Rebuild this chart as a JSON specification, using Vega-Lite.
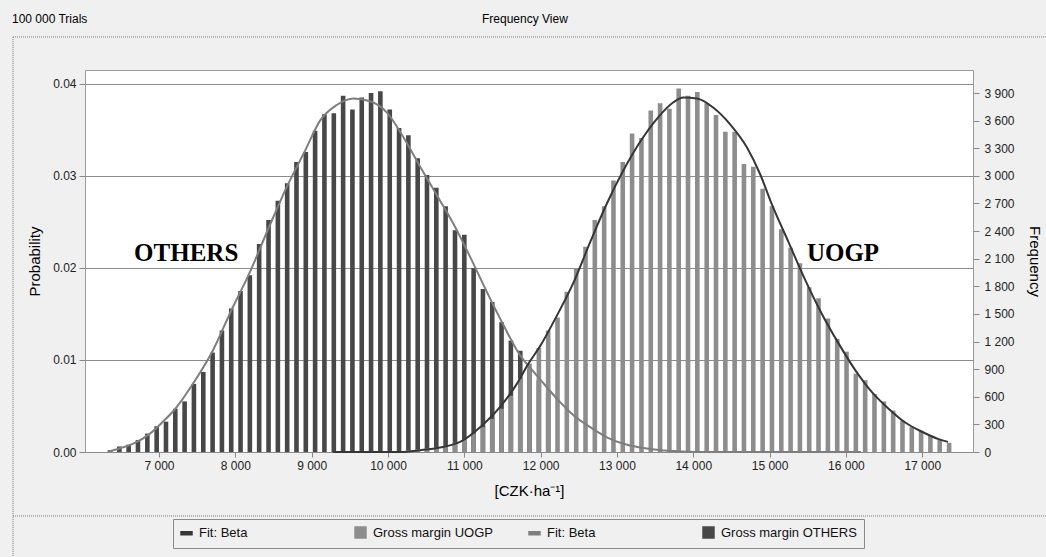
{
  "$schema": "https://vega.github.io/schema/vega-lite/v6.json",
  "width": 888,
  "height": 382,
  "autosize": {"type": "none"},
  "padding": {"left": 85, "top": 70, "right": 73, "bottom": 105},
  "background": "#f0f0f0",
  "config": {
    "view": {"fill": "white", "stroke": "#9a9a9a", "strokeWidth": 1},
    "scale": {"continuousPadding": 0},
    "font": "Liberation Sans",
    "axis": {"labelFont": "Liberation Sans", "titleFont": "Liberation Sans", "labelColor": "#222", "titleColor": "#000", "labelFontSize": 12, "titleFontWeight": "normal", "titleFontSize": 15, "tickColor": "#888", "domain": false}
  },
  "datasets": {
    "bars": [
      {"series": "Gross margin OTHERS", "czk": 6358, "prob": 0.0002},
      {"series": "Gross margin OTHERS", "czk": 6480, "prob": 0.0006},
      {"series": "Gross margin OTHERS", "czk": 6602, "prob": 0.0008},
      {"series": "Gross margin OTHERS", "czk": 6724, "prob": 0.0013},
      {"series": "Gross margin OTHERS", "czk": 6847, "prob": 0.0020},
      {"series": "Gross margin OTHERS", "czk": 6969, "prob": 0.0028},
      {"series": "Gross margin OTHERS", "czk": 7091, "prob": 0.0033},
      {"series": "Gross margin OTHERS", "czk": 7213, "prob": 0.0047},
      {"series": "Gross margin OTHERS", "czk": 7335, "prob": 0.0055},
      {"series": "Gross margin OTHERS", "czk": 7457, "prob": 0.0074},
      {"series": "Gross margin OTHERS", "czk": 7580, "prob": 0.0087},
      {"series": "Gross margin OTHERS", "czk": 7702, "prob": 0.0108},
      {"series": "Gross margin OTHERS", "czk": 7824, "prob": 0.0132},
      {"series": "Gross margin OTHERS", "czk": 7946, "prob": 0.0156},
      {"series": "Gross margin OTHERS", "czk": 8068, "prob": 0.0175},
      {"series": "Gross margin OTHERS", "czk": 8190, "prob": 0.0192},
      {"series": "Gross margin OTHERS", "czk": 8312, "prob": 0.0226},
      {"series": "Gross margin OTHERS", "czk": 8435, "prob": 0.0252},
      {"series": "Gross margin OTHERS", "czk": 8557, "prob": 0.0273},
      {"series": "Gross margin OTHERS", "czk": 8679, "prob": 0.0292},
      {"series": "Gross margin OTHERS", "czk": 8801, "prob": 0.0315},
      {"series": "Gross margin OTHERS", "czk": 8923, "prob": 0.0326},
      {"series": "Gross margin OTHERS", "czk": 9045, "prob": 0.0349},
      {"series": "Gross margin OTHERS", "czk": 9167, "prob": 0.0367},
      {"series": "Gross margin OTHERS", "czk": 9290, "prob": 0.0368},
      {"series": "Gross margin OTHERS", "czk": 9412, "prob": 0.0387},
      {"series": "Gross margin OTHERS", "czk": 9534, "prob": 0.0372},
      {"series": "Gross margin OTHERS", "czk": 9656, "prob": 0.0385},
      {"series": "Gross margin OTHERS", "czk": 9778, "prob": 0.0390},
      {"series": "Gross margin OTHERS", "czk": 9900, "prob": 0.0392},
      {"series": "Gross margin OTHERS", "czk": 10023, "prob": 0.0372},
      {"series": "Gross margin OTHERS", "czk": 10145, "prob": 0.0352},
      {"series": "Gross margin OTHERS", "czk": 10267, "prob": 0.0344},
      {"series": "Gross margin OTHERS", "czk": 10389, "prob": 0.0319},
      {"series": "Gross margin OTHERS", "czk": 10511, "prob": 0.0301},
      {"series": "Gross margin OTHERS", "czk": 10633, "prob": 0.0287},
      {"series": "Gross margin OTHERS", "czk": 10755, "prob": 0.0267},
      {"series": "Gross margin OTHERS", "czk": 10878, "prob": 0.0241},
      {"series": "Gross margin OTHERS", "czk": 11000, "prob": 0.0236},
      {"series": "Gross margin OTHERS", "czk": 11122, "prob": 0.0200},
      {"series": "Gross margin OTHERS", "czk": 11244, "prob": 0.0177},
      {"series": "Gross margin OTHERS", "czk": 11366, "prob": 0.0163},
      {"series": "Gross margin OTHERS", "czk": 11488, "prob": 0.0141},
      {"series": "Gross margin OTHERS", "czk": 11610, "prob": 0.0121},
      {"series": "Gross margin OTHERS", "czk": 11733, "prob": 0.0110},
      {"series": "Gross margin OTHERS", "czk": 11855, "prob": 0.0090},
      {"series": "Gross margin OTHERS", "czk": 11977, "prob": 0.0078},
      {"series": "Gross margin OTHERS", "czk": 12099, "prob": 0.0064},
      {"series": "Gross margin UOGP", "czk": 10023, "prob": 0.0001},
      {"series": "Gross margin UOGP", "czk": 10145, "prob": 0.0001},
      {"series": "Gross margin UOGP", "czk": 10267, "prob": 0.0002},
      {"series": "Gross margin UOGP", "czk": 10389, "prob": 0.0003},
      {"series": "Gross margin UOGP", "czk": 10511, "prob": 0.0004},
      {"series": "Gross margin UOGP", "czk": 10633, "prob": 0.0005},
      {"series": "Gross margin UOGP", "czk": 10755, "prob": 0.0007},
      {"series": "Gross margin UOGP", "czk": 10878, "prob": 0.0010},
      {"series": "Gross margin UOGP", "czk": 11000, "prob": 0.0014},
      {"series": "Gross margin UOGP", "czk": 11122, "prob": 0.0020},
      {"series": "Gross margin UOGP", "czk": 11244, "prob": 0.0027},
      {"series": "Gross margin UOGP", "czk": 11366, "prob": 0.0036},
      {"series": "Gross margin UOGP", "czk": 11488, "prob": 0.0047},
      {"series": "Gross margin UOGP", "czk": 11610, "prob": 0.0061},
      {"series": "Gross margin UOGP", "czk": 11733, "prob": 0.0080},
      {"series": "Gross margin UOGP", "czk": 11855, "prob": 0.0096},
      {"series": "Gross margin UOGP", "czk": 11977, "prob": 0.0113},
      {"series": "Gross margin UOGP", "czk": 12099, "prob": 0.0132},
      {"series": "Gross margin UOGP", "czk": 12221, "prob": 0.0146},
      {"series": "Gross margin UOGP", "czk": 12343, "prob": 0.0174},
      {"series": "Gross margin UOGP", "czk": 12466, "prob": 0.0199},
      {"series": "Gross margin UOGP", "czk": 12588, "prob": 0.0223},
      {"series": "Gross margin UOGP", "czk": 12710, "prob": 0.0252},
      {"series": "Gross margin UOGP", "czk": 12832, "prob": 0.0267},
      {"series": "Gross margin UOGP", "czk": 12954, "prob": 0.0295},
      {"series": "Gross margin UOGP", "czk": 13076, "prob": 0.0315},
      {"series": "Gross margin UOGP", "czk": 13198, "prob": 0.0346},
      {"series": "Gross margin UOGP", "czk": 13321, "prob": 0.0341},
      {"series": "Gross margin UOGP", "czk": 13443, "prob": 0.0371},
      {"series": "Gross margin UOGP", "czk": 13565, "prob": 0.0379},
      {"series": "Gross margin UOGP", "czk": 13687, "prob": 0.0373},
      {"series": "Gross margin UOGP", "czk": 13809, "prob": 0.0395},
      {"series": "Gross margin UOGP", "czk": 13931, "prob": 0.0387},
      {"series": "Gross margin UOGP", "czk": 14053, "prob": 0.0391},
      {"series": "Gross margin UOGP", "czk": 14176, "prob": 0.0379},
      {"series": "Gross margin UOGP", "czk": 14298, "prob": 0.0366},
      {"series": "Gross margin UOGP", "czk": 14420, "prob": 0.0348},
      {"series": "Gross margin UOGP", "czk": 14542, "prob": 0.0348},
      {"series": "Gross margin UOGP", "czk": 14664, "prob": 0.0313},
      {"series": "Gross margin UOGP", "czk": 14786, "prob": 0.0310},
      {"series": "Gross margin UOGP", "czk": 14909, "prob": 0.0286},
      {"series": "Gross margin UOGP", "czk": 15031, "prob": 0.0267},
      {"series": "Gross margin UOGP", "czk": 15153, "prob": 0.0242},
      {"series": "Gross margin UOGP", "czk": 15275, "prob": 0.0222},
      {"series": "Gross margin UOGP", "czk": 15397, "prob": 0.0205},
      {"series": "Gross margin UOGP", "czk": 15519, "prob": 0.0179},
      {"series": "Gross margin UOGP", "czk": 15641, "prob": 0.0167},
      {"series": "Gross margin UOGP", "czk": 15764, "prob": 0.0145},
      {"series": "Gross margin UOGP", "czk": 15886, "prob": 0.0123},
      {"series": "Gross margin UOGP", "czk": 16008, "prob": 0.0109},
      {"series": "Gross margin UOGP", "czk": 16130, "prob": 0.0085},
      {"series": "Gross margin UOGP", "czk": 16252, "prob": 0.0078},
      {"series": "Gross margin UOGP", "czk": 16374, "prob": 0.0063},
      {"series": "Gross margin UOGP", "czk": 16497, "prob": 0.0055},
      {"series": "Gross margin UOGP", "czk": 16619, "prob": 0.0045},
      {"series": "Gross margin UOGP", "czk": 16741, "prob": 0.0034},
      {"series": "Gross margin UOGP", "czk": 16863, "prob": 0.0027},
      {"series": "Gross margin UOGP", "czk": 16985, "prob": 0.0023},
      {"series": "Gross margin UOGP", "czk": 17107, "prob": 0.0018},
      {"series": "Gross margin UOGP", "czk": 17229, "prob": 0.0013},
      {"series": "Gross margin UOGP", "czk": 17352, "prob": 0.0010}
    ],
    "fits": [
      {"series": "Fit: Beta ", "czk": 6330, "prob": 0.0},
      {"series": "Fit: Beta ", "czk": 6489, "prob": 0.0004},
      {"series": "Fit: Beta ", "czk": 6663, "prob": 0.0009},
      {"series": "Fit: Beta ", "czk": 6882, "prob": 0.0020},
      {"series": "Fit: Beta ", "czk": 7052, "prob": 0.0033},
      {"series": "Fit: Beta ", "czk": 7214, "prob": 0.0047},
      {"series": "Fit: Beta ", "czk": 7459, "prob": 0.0076},
      {"series": "Fit: Beta ", "czk": 7704, "prob": 0.0110},
      {"series": "Fit: Beta ", "czk": 7948, "prob": 0.0154},
      {"series": "Fit: Beta ", "czk": 8183, "prob": 0.0194},
      {"series": "Fit: Beta ", "czk": 8429, "prob": 0.0242},
      {"series": "Fit: Beta ", "czk": 8674, "prob": 0.0288},
      {"series": "Fit: Beta ", "czk": 8917, "prob": 0.0328},
      {"series": "Fit: Beta ", "czk": 9110, "prob": 0.0360},
      {"series": "Fit: Beta ", "czk": 9329, "prob": 0.0377},
      {"series": "Fit: Beta ", "czk": 9547, "prob": 0.0384},
      {"series": "Fit: Beta ", "czk": 9765, "prob": 0.0381},
      {"series": "Fit: Beta ", "czk": 9984, "prob": 0.0369},
      {"series": "Fit: Beta ", "czk": 10202, "prob": 0.0342},
      {"series": "Fit: Beta ", "czk": 10421, "prob": 0.0310},
      {"series": "Fit: Beta ", "czk": 10640, "prob": 0.0279},
      {"series": "Fit: Beta ", "czk": 10857, "prob": 0.0248},
      {"series": "Fit: Beta ", "czk": 11076, "prob": 0.0212},
      {"series": "Fit: Beta ", "czk": 11295, "prob": 0.0174},
      {"series": "Fit: Beta ", "czk": 11512, "prob": 0.0138},
      {"series": "Fit: Beta ", "czk": 11731, "prob": 0.0105},
      {"series": "Fit: Beta ", "czk": 11836, "prob": 0.0094},
      {"series": "Fit: Beta ", "czk": 11993, "prob": 0.0079},
      {"series": "Fit: Beta ", "czk": 12212, "prob": 0.0058},
      {"series": "Fit: Beta ", "czk": 12430, "prob": 0.0040},
      {"series": "Fit: Beta ", "czk": 12649, "prob": 0.0027},
      {"series": "Fit: Beta ", "czk": 12868, "prob": 0.0016},
      {"series": "Fit: Beta ", "czk": 13085, "prob": 0.0009},
      {"series": "Fit: Beta ", "czk": 13304, "prob": 0.0005},
      {"series": "Fit: Beta ", "czk": 13740, "prob": 0.0001},
      {"series": "Fit: Beta ", "czk": 14090, "prob": 0.0},
      {"series": "Fit: Beta ", "czk": 16200, "prob": 0.0},
      {"series": "Fit: Beta", "czk": 9280, "prob": 0.0},
      {"series": "Fit: Beta", "czk": 10157, "prob": 0.0},
      {"series": "Fit: Beta", "czk": 10421, "prob": 0.0002},
      {"series": "Fit: Beta", "czk": 10683, "prob": 0.0005},
      {"series": "Fit: Beta", "czk": 10945, "prob": 0.0011},
      {"series": "Fit: Beta", "czk": 11207, "prob": 0.0027},
      {"series": "Fit: Beta", "czk": 11469, "prob": 0.0049},
      {"series": "Fit: Beta", "czk": 11688, "prob": 0.0074},
      {"series": "Fit: Beta", "czk": 11840, "prob": 0.0096},
      {"series": "Fit: Beta", "czk": 11993, "prob": 0.0115},
      {"series": "Fit: Beta", "czk": 12212, "prob": 0.0148},
      {"series": "Fit: Beta", "czk": 12430, "prob": 0.0184},
      {"series": "Fit: Beta", "czk": 12649, "prob": 0.0228},
      {"series": "Fit: Beta", "czk": 12868, "prob": 0.0270},
      {"series": "Fit: Beta", "czk": 13085, "prob": 0.0306},
      {"series": "Fit: Beta", "czk": 13304, "prob": 0.0337},
      {"series": "Fit: Beta", "czk": 13523, "prob": 0.0362},
      {"series": "Fit: Beta", "czk": 13740, "prob": 0.0380},
      {"series": "Fit: Beta", "czk": 13872, "prob": 0.0385},
      {"series": "Fit: Beta", "czk": 14047, "prob": 0.0384},
      {"series": "Fit: Beta", "czk": 14264, "prob": 0.0374},
      {"series": "Fit: Beta", "czk": 14483, "prob": 0.0356},
      {"series": "Fit: Beta", "czk": 14702, "prob": 0.0331},
      {"series": "Fit: Beta", "czk": 14875, "prob": 0.0302},
      {"series": "Fit: Beta", "czk": 15030, "prob": 0.0269},
      {"series": "Fit: Beta", "czk": 15248, "prob": 0.0228},
      {"series": "Fit: Beta", "czk": 15466, "prob": 0.0187},
      {"series": "Fit: Beta", "czk": 15685, "prob": 0.0150},
      {"series": "Fit: Beta", "czk": 15903, "prob": 0.0118},
      {"series": "Fit: Beta", "czk": 16122, "prob": 0.0089},
      {"series": "Fit: Beta", "czk": 16341, "prob": 0.0065},
      {"series": "Fit: Beta", "czk": 16559, "prob": 0.0047},
      {"series": "Fit: Beta", "czk": 16777, "prob": 0.0032},
      {"series": "Fit: Beta", "czk": 16996, "prob": 0.0022},
      {"series": "Fit: Beta", "czk": 17214, "prob": 0.0014},
      {"series": "Fit: Beta", "czk": 17337, "prob": 0.0011}
    ],
    "bigLabels": [
      {"czk": 7356, "prob": 0.0216, "text": "OTHERS"},
      {"czk": 15962, "prob": 0.0216, "text": "UOGP"}
    ],
    "header": [
      {"czk": 5073, "prob": 0.0470, "text": "100 000 Trials"},
      {"czk": 11232, "prob": 0.0470, "text": "Frequency View"}
    ],
    "frame": [
      {"czk": 5087, "czk2": 18622, "prob": 0.04509, "prob2": 0.04509},
      {"czk": 5087, "czk2": 5087, "prob": 0.04509, "prob2": -0.0115},
      {"czk": 5087, "czk2": 18622, "prob": -0.00695, "prob2": -0.00695}
    ],
    "freqAxis": [{"prob": 0}, {"prob": 0.0415}]
  },
  "layer": [
    {
      "data": {"name": "frame"},
      "mark": {"type": "rule", "color": "#7a7a7a", "strokeWidth": 1, "strokeDash": [1, 1], "clip": false},
      "encoding": {
        "x": {"field": "czk", "type": "quantitative", "scale": {"domain": [6030, 17665], "nice": false, "zero": false, "padding": 0}, "axis": {"values": [7000, 8000, 9000, 10000, 11000, 12000, 13000, 14000, 15000, 16000, 17000], "labelExpr": "replace(format(datum.value, ','), ',', ' ')", "grid": false, "tickSize": 5, "labelPadding": 3, "title": "[CZK·ha⁻¹]", "titlePadding": 12}},
        "x2": {"field": "czk2"},
        "y": {"field": "prob", "type": "quantitative", "scale": {"domain": [0, 0.0415], "nice": false, "padding": 0}, "axis": {"orient": "left", "values": [0, 0.01, 0.02, 0.03, 0.04], "format": ".2f", "grid": true, "gridColor": "#8a8a8a", "gridWidth": 1, "tickSize": 6, "labelPadding": 3, "title": "Probability", "titlePadding": 10}},
        "y2": {"field": "prob2"}
      }
    },
    {
      "data": {"name": "bars"},
      "transform": [{"filter": "datum.prob < 0"}],
      "mark": {"type": "point", "filled": true, "opacity": 1},
      "encoding": {
        "x": {"field": "czk", "type": "quantitative"},
        "y": {"field": "prob", "type": "quantitative", "axis": null},
        "color": {"field": "series", "type": "nominal", "scale": {"domain": ["Fit: Beta", "Gross margin UOGP", "Fit: Beta ", "Gross margin OTHERS"], "range": ["#363636", "#8d8d8d", "#7e7e7e", "#474747"]}, "legend": {"title": null, "orient": "none", "legendX": 88, "legendY": 449, "direction": "horizontal", "columns": 4, "gridAlign": "all", "columnPadding": 17, "padding": 7, "strokeColor": "#8a8a8a", "fillColor": "#f0f0f0", "labelFont": "Liberation Sans", "labelFontSize": 13, "labelColor": "#111", "labelOffset": 6, "symbolSize": 120}},
        "shape": {"field": "series", "type": "nominal", "scale": {"domain": ["Fit: Beta", "Gross margin UOGP", "Fit: Beta ", "Gross margin OTHERS"], "range": ["M-1,-0.26L1,-0.26L1,0.26L-1,0.26Z", "square", "M-1,-0.26L1,-0.26L1,0.26L-1,0.26Z", "square"]}, "legend": {"title": null, "orient": "none", "legendX": 88, "legendY": 449, "direction": "horizontal", "columns": 4, "gridAlign": "all", "columnPadding": 17, "padding": 7, "strokeColor": "#8a8a8a", "fillColor": "#f0f0f0", "labelFont": "Liberation Sans", "labelFontSize": 13, "labelColor": "#111", "labelOffset": 6, "symbolSize": 120}}
      }
    },
    {
      "data": {"name": "bars"},
      "transform": [{"filter": "datum.series === 'Gross margin OTHERS'"}],
      "mark": {"type": "bar", "size": 4.6},
      "encoding": {
        "x": {"field": "czk", "type": "quantitative"},
        "y": {"field": "prob", "type": "quantitative", "axis": null},
        "color": {"field": "series", "type": "nominal"}
      }
    },
    {
      "data": {"name": "bars"},
      "transform": [{"filter": "datum.series === 'Gross margin UOGP'"}],
      "mark": {"type": "bar", "size": 4.6},
      "encoding": {
        "x": {"field": "czk", "type": "quantitative"},
        "y": {"field": "prob", "type": "quantitative", "axis": null},
        "color": {"field": "series", "type": "nominal"}
      }
    },
    {
      "data": {"name": "fits"},
      "mark": {"type": "line", "interpolate": "monotone", "strokeWidth": 2},
      "encoding": {
        "x": {"field": "czk", "type": "quantitative"},
        "y": {"field": "prob", "type": "quantitative", "axis": null},
        "color": {"field": "series", "type": "nominal"}
      }
    },
    {
      "data": {"name": "bigLabels"},
      "mark": {"type": "text", "font": "Liberation Serif", "fontWeight": "bold", "fontSize": 25, "color": "#000", "align": "center", "baseline": "middle"},
      "encoding": {
        "x": {"field": "czk", "type": "quantitative"},
        "y": {"field": "prob", "type": "quantitative", "axis": null},
        "text": {"field": "text"}
      }
    },
    {
      "data": {"name": "header"},
      "mark": {"type": "text", "font": "Liberation Sans", "fontSize": 12, "color": "#000", "align": "left", "baseline": "middle"},
      "encoding": {
        "x": {"field": "czk", "type": "quantitative"},
        "y": {"field": "prob", "type": "quantitative", "axis": null},
        "text": {"field": "text"}
      }
    },
    {
      "data": {"name": "freqAxis"},
      "mark": {"type": "rule", "opacity": 0},
      "encoding": {
        "y": {"field": "prob", "type": "quantitative", "axis": {"orient": "right", "values": [0, 0.003, 0.006, 0.009, 0.012, 0.015, 0.018, 0.021, 0.024, 0.027, 0.03, 0.033, 0.036, 0.039], "labelExpr": "replace(format(round(datum.value * 100000), ','), ',', ' ')", "grid": false, "tickSize": 6, "labelPadding": 5, "title": "Frequency", "titlePadding": 12}}
      }
    }
  ],
  "resolve": {"axis": {"y": "independent"}}
}
